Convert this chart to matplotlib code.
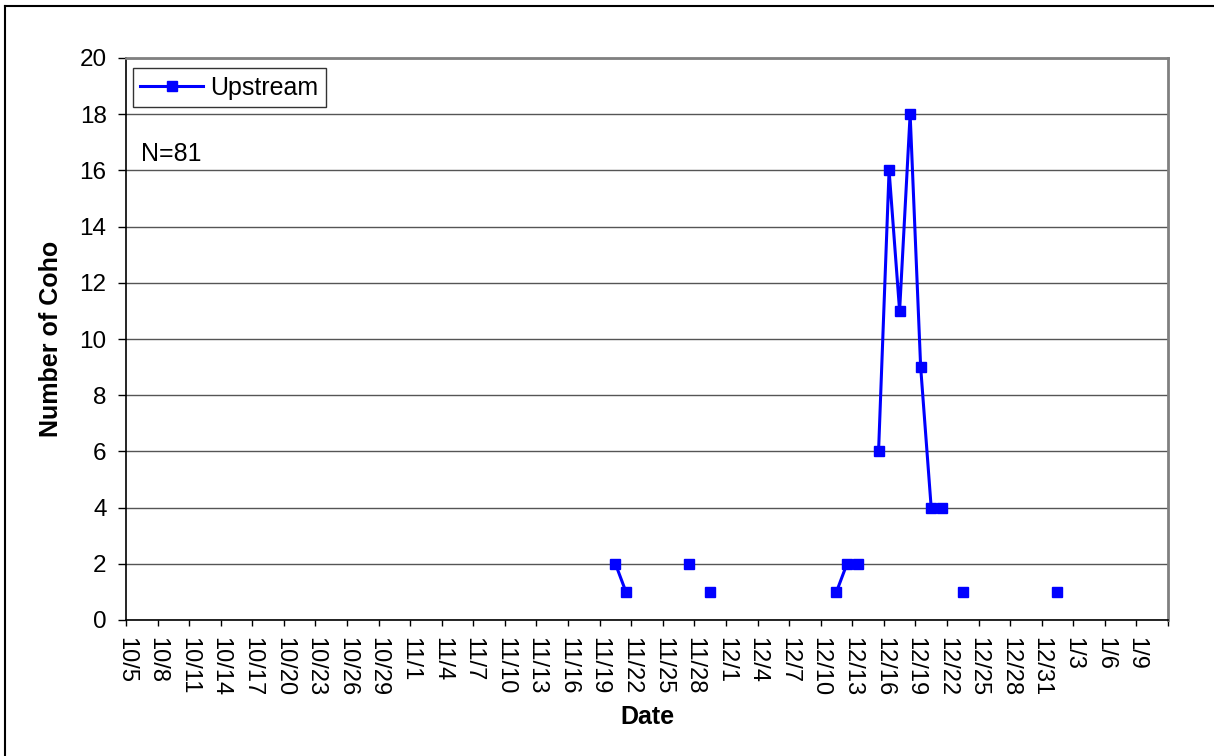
import matplotlib.pyplot as plt
import pandas as pd
from matplotlib.lines import Line2D

plt.rcParams['font.family'] = ['Liberation Sans', 'DejaVu Sans']

# counts of coho trapped upstream, by date (days with no catch are absent)
dates = ['2000-11-20', '2000-11-21', '2000-11-27', '2000-11-29',
         '2000-12-11', '2000-12-12', '2000-12-13', '2000-12-15',
         '2000-12-16', '2000-12-17', '2000-12-18', '2000-12-19',
         '2000-12-20', '2000-12-21', '2000-12-23', '2001-01-01']
upstream = [2, 1, 2, 1, 1, 2, 2, 6, 16, 11, 18, 9, 4, 4, 1, 1]

start = pd.Timestamp('2000-10-05')
end = pd.Timestamp('2001-01-13')

s = pd.Series(upstream, index=pd.to_datetime(dates))
full = s.reindex(pd.date_range(start, end - pd.Timedelta(days=1)))
xday = (full.index - start).days + 0.5

fig = plt.figure(figsize=(12.14, 7.56), dpi=100)
ax = fig.add_axes([126 / 1214, 1 - 620 / 756, (1168 - 126) / 1214, (620 - 58) / 756])

ax.plot(xday, full.values, color='#0000ff', lw=2.2, marker='s', ms=7.5,
        label='Upstream')

ax.set_xlim(0, (end - start).days - 1)
ax.set_ylim(0, 20)
ax.set_yticks(range(0, 21, 2))
ticks = list(range(0, 100, 3))
labels = [f'{d.month}/{d.day}' for d in (start + pd.to_timedelta(ticks, unit='D'))]
labels[-1] = ''
ax.set_xticks(ticks)
ax.set_xticklabels(labels, rotation=270, fontsize=17)
ax.tick_params(axis='y', labelsize=17.5, direction='out', length=6, width=1, pad=8)
ax.tick_params(axis='x', direction='out', length=4.5, width=1, pad=8)

ax.grid(axis='y', color='#555555', lw=1)
ax.set_axisbelow(True)
for side in ['top', 'right']:
    ax.spines[side].set_color('#808080')
    ax.spines[side].set_linewidth(2)
for side in ['left', 'bottom']:
    ax.spines[side].set_color('black')
    ax.spines[side].set_linewidth(1.2)

ax.set_xlabel('Date', fontsize=18, fontweight='bold', labelpad=6)
ax.set_ylabel('Number of Coho', fontsize=18, fontweight='bold', labelpad=12)

leg = ax.legend(loc='upper left', bbox_to_anchor=(0.0067, 0.982), fontsize=18,
                frameon=True, fancybox=False, handlelength=2.5, borderpad=0.3,
                borderaxespad=0, handletextpad=0.3)
leg.get_frame().set_edgecolor('black')
leg.get_frame().set_linewidth(1)

ax.text(0.014, 0.83, 'N=81', transform=ax.transAxes, fontsize=18,
        va='center', ha='left')

# outer chart border (only top and left edges fall inside the image)
fig.add_artist(Line2D([5 / 1214, 1], [1 - 6 / 756, 1 - 6 / 756], color='black', lw=1.5))
fig.add_artist(Line2D([5 / 1214, 5 / 1214], [0, 1 - 6 / 756], color='black', lw=1.5))

fig.savefig('out.png', dpi=100)
